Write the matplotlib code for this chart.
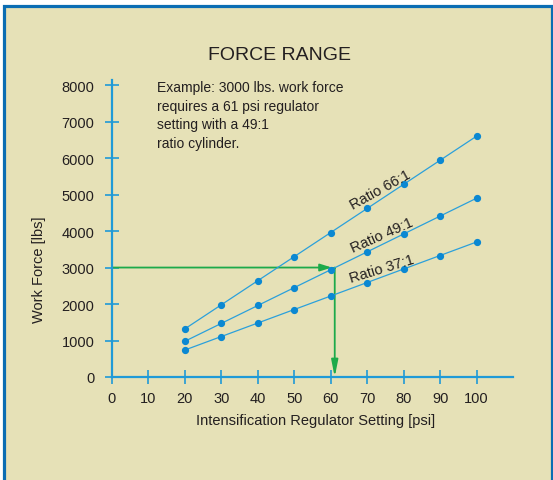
import numpy as np
import matplotlib
matplotlib.use("Agg")
import matplotlib.pyplot as plt
from matplotlib.patches import Rectangle

plt.rcParams['font.family'] = ['Liberation Sans', 'DejaVu Sans']

# regulator setting [psi]
psi = [20, 30, 40, 50, 60, 70, 80, 90, 100]
# work force [lbs] for each cylinder ratio
force_66 = [1320, 1980, 2640, 3300, 3960, 4620, 5280, 5940, 6600]
force_49 = [980, 1470, 1960, 2450, 2940, 3430, 3920, 4410, 4900]
force_37 = [740, 1110, 1480, 1850, 2220, 2590, 2960, 3330, 3700]
ratio_labels = ['Ratio 66:1', 'Ratio 49:1', 'Ratio 37:1']
# baseline start of each label and its tilt
label_pos = [(66.2, 4600), (66.0, 3425), (65.6, 2600)]
label_rot = [29, 24, 17]

x_ticks = [0, 10, 20, 30, 40, 50, 60, 70, 80, 90, 100]
y_ticks = [0, 1000, 2000, 3000, 4000, 5000, 6000, 7000, 8000]

# worked example: 3000 lbs -> 61 psi
ex_force = 3000
ex_psi = 61.1

bg = '#E6E1B7'
frame = '#0B6DB3'
axis_col = '#1F9AD7'
line_col = '#2BA0DB'
dot_col = '#0B88D2'
green = '#1DAA4A'
text_col = '#231F20'

W, H = 553, 481
fig = plt.figure(figsize=(W / 100, H / 100), dpi=100)
fig.patch.set_facecolor('white')

# panel background with blue frame
fig.patches.append(Rectangle((3.5 / W, -0.05), (552 - 3.5) / W, 1.05 - 6.5 / H,
                             transform=fig.transFigure, facecolor=bg,
                             edgecolor=frame, linewidth=2.3, zorder=-5))

ax = fig.add_axes([112 / W, (H - 378) / H, (513 - 112) / W, (378 - 81) / H])
ax.set_facecolor('none')
ax.set_xlim(0, 110)
ax.set_ylim(0, 8140)

for s in ['top', 'right']:
    ax.spines[s].set_visible(False)
for s in ['left', 'bottom']:
    ax.spines[s].set_color(axis_col)
    ax.spines[s].set_linewidth(1.6)
    ax.spines[s].set_zorder(4)

ax.set_xticks(x_ticks)
ax.set_yticks(y_ticks)
ax.tick_params(direction='inout', length=9.5, width=1.2, color=axis_col,
               labelsize=10.5, labelcolor=text_col)
ax.tick_params(axis='x', pad=5)
ax.tick_params(axis='y', pad=8)

for vals in [force_66, force_49, force_37]:
    ax.plot(psi, vals, color=line_col, linewidth=0.9, zorder=3)
    ax.plot(psi, vals, 'o', color=dot_col, markersize=4.2, zorder=3)

# green example arrows
ax.annotate('', xy=(ex_psi - 0.8, ex_force), xytext=(0, ex_force),
            arrowprops=dict(arrowstyle='-|>,head_length=0.7,head_width=0.22',
                            color=green, linewidth=1.3, mutation_scale=10,
                            shrinkA=0, shrinkB=0), zorder=2)
ax.plot([ex_psi - 0.8, ex_psi], [ex_force, ex_force], color=green,
        linewidth=1.3, zorder=2)
ax.annotate('', xy=(ex_psi, 0), xytext=(ex_psi, ex_force),
            arrowprops=dict(arrowstyle='-|>,head_length=1.0,head_width=0.2',
                            color=green, linewidth=1.3, mutation_scale=10,
                            shrinkA=0, shrinkB=0), zorder=2)

# ratio labels sit just above their lines
for lab, (lx, ly), rot in zip(ratio_labels, label_pos, label_rot):
    ax.text(lx, ly, lab, rotation=rot, rotation_mode='anchor', ha='left',
            va='baseline', fontsize=10.5, color=text_col)

fig.text(280 / W, 1 - 55 / H, 'FORCE RANGE', ha='center', va='center',
         fontsize=14, color=text_col)
fig.text(157 / W, 1 - 81 / H,
         'Example: 3000 lbs. work force\nrequires a 61 psi regulator\n'
         'setting with a 49:1\nratio cylinder.',
         ha='left', va='top', fontsize=10, color=text_col, linespacing=1.41)

fig.text(39 / W, 1 - 270 / H, 'Work Force [lbs]', rotation=90, ha='center',
         va='center', fontsize=10.5, color=text_col)
fig.text(316 / W, 1 - 421 / H, 'Intensification Regulator Setting [psi]',
         ha='center', va='center', fontsize=10.5, color=text_col)

fig.savefig('out.png', dpi=100, facecolor=fig.get_facecolor())
